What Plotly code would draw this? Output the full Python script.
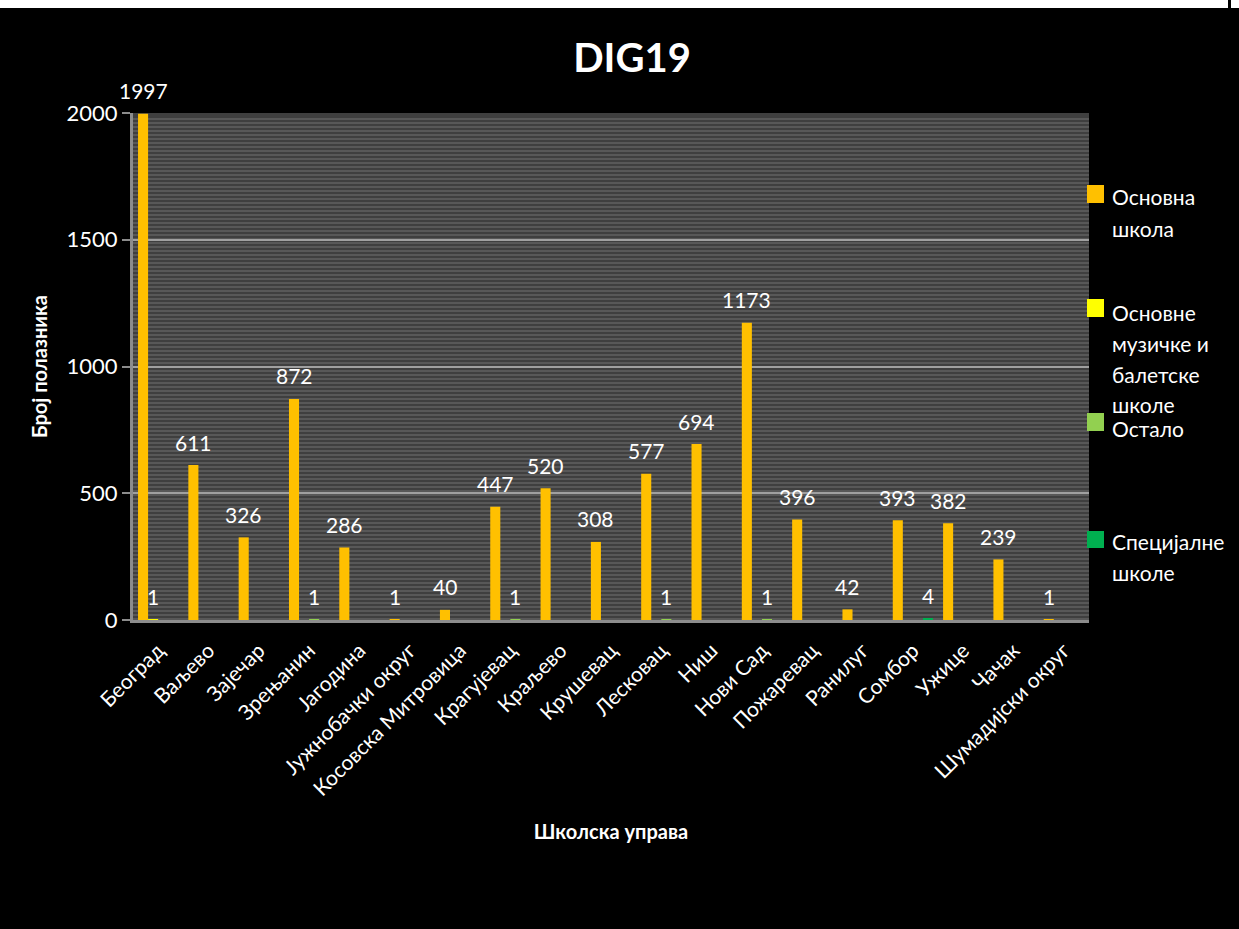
import plotly.graph_objects as go

# ---- data ----
categories = ["Београд", "Ваљево", "Зајечар", "Зрењанин", "Јагодина", "Јужнобачки округ",
              "Косовска Митровица", "Крагујевац", "Краљево", "Крушевац", "Лесковац", "Ниш",
              "Нови Сад", "Пожаревац", "Ранилуг", "Сомбор", "Ужице", "Чачак", "Шумадијски округ"]
osnovna = [1997, 611, 326, 872, 286, 1, 40, 447, 520, 308, 577, 694, 1173, 396, 42, 393, 382, 239, 1]
muzicke = [1, None, None, None, None, None, None, None, None, None, None, None, None, None, None, None, None, None, None]
ostalo = [None, None, None, 1, None, None, None, 1, None, None, 1, None, 1, None, None, None, None, None, None]
specijalne = [None, None, None, None, None, None, None, None, None, None, None, None, None, None, None, 4, None, None, None]
series_names = ["Основна школа", "Основне музичке и балетске школе", "Остало", "Специјалне школе"]
series_colors = ["#FFC000", "#FFFF00", "#92D050", "#00B050"]
y_ticks = [0, 500, 1000, 1500, 2000]

FONT = "Lato"
W, H = 1239, 929
L, R, T, B = 133, 1089, 113, 620  # plot area in px
BARGAP = 0.2


def px_x(px):
    return (px - L) / (R - L)


def px_y(py):
    return (B - py) / (B - T)


all_series = [osnovna, muzicke, ostalo, specijalne]
n_series = len(all_series)
slot_px = (R - L) / len(categories)
bar_px = slot_px * (1 - BARGAP) / n_series

fig = go.Figure()
annotations = []
for i, (name, vals, col) in enumerate(zip(series_names, all_series, series_colors)):
    fig.add_trace(go.Bar(
        x=categories, y=vals, name=name, marker=dict(color=col, line=dict(width=0)),
        showlegend=False,
    ))
    # data labels above each bar (Excel-like "outside end" with its larger gap)
    for c, v in zip(categories, vals):
        if v is None:
            continue
        annotations.append(dict(
            x=c, y=v, xref="x", yref="y", text=str(v), showarrow=False,
            xanchor="center", yanchor="middle",
            xshift=(i - (n_series - 1) / 2) * bar_px, yshift=23,
            font=dict(family=FONT, size=21, color="white"),
        ))

fig.update_layout(
    width=W, height=H,
    margin=dict(l=L, r=W - R, t=T, b=H - B, autoexpand=False),
    paper_bgcolor="black", plot_bgcolor="#3f3f3f",
    barmode="group", bargap=BARGAP, bargroupgap=0,
    font=dict(family=FONT, color="white"),
    title=dict(text="<b>DIG19</b>", x=632 / W, y=1 - 58 / H, xanchor="center", yanchor="middle",
               font=dict(family=FONT, size=40, color="white")),
)

fig.update_xaxes(
    range=[-0.5, len(categories) - 0.5],
    tickangle=-45, tickfont=dict(family=FONT, size=21, color="white"),
    showline=True, linecolor="#8c8c8c", linewidth=3, ticks="", ticklabelstandoff=7,
    showgrid=False, fixedrange=True,
    title=dict(text="<b>Школска управа</b>", font=dict(family=FONT, size=20, color="white"), standoff=26),
)
fig.update_yaxes(
    range=[0, 2000], tickvals=y_ticks, tickfont=dict(family=FONT, size=22, color="white"),
    showline=True, linecolor="#8c8c8c", linewidth=3, ticks="outside", ticklen=8, tickwidth=2,
    tickcolor="#8c8c8c", showgrid=True, gridcolor="#a0a0a0", gridwidth=2, zeroline=False,
    title=dict(text="<b>Број полазника</b>", font=dict(family=FONT, size=20, color="white"), standoff=14),
)

shapes = []
# fine horizontal stripe texture of the plot background (decoration only)
stripe_path = "".join(
    f"M0,{px_y(B - k * 4 - 1):.5f} H1 " for k in range(int((B - T) / 4))
)
shapes.append(dict(type="path", xref="paper", yref="paper", path=stripe_path,
                   line=dict(color="#585858", width=2), layer="below"))

# top white strip with a thin black separator (page fragment above the chart)
shapes.append(dict(type="rect", xref="paper", yref="paper", x0=px_x(0), x1=px_x(W), y0=px_y(8), y1=px_y(0),
                   fillcolor="white", line=dict(width=0), layer="above"))
shapes.append(dict(type="rect", xref="paper", yref="paper", x0=px_x(1228), x1=px_x(1231), y0=px_y(8), y1=px_y(0),
                   fillcolor="black", line=dict(width=0), layer="above"))

# manual legend (matches the reference's irregular spacing)
legend_items = [
    ("#FFC000", (185, 203), ["Основна", "школа"], [197, 229]),
    ("#FFFF00", (299, 317), ["Основне", "музичке и", "балетске", "школе"], [312, 343, 374, 404]),
    ("#92D050", (413, 431), ["Остало"], [428]),
    ("#00B050", (531, 548), ["Специјалне", "школе"], [541, 572]),
]
for col, (sy0, sy1), lines, ys in legend_items:
    shapes.append(dict(type="rect", xref="paper", yref="paper", x0=px_x(1087), x1=px_x(1104),
                       y0=px_y(sy1), y1=px_y(sy0), fillcolor=col, line=dict(width=0)))
    for txt, yy in zip(lines, ys):
        annotations.append(dict(text=txt, xref="paper", yref="paper", x=px_x(1110), y=px_y(yy),
                                xanchor="left", yanchor="middle", showarrow=False,
                                font=dict(family=FONT, size=21, color="white")))

fig.update_layout(shapes=shapes, annotations=annotations)

fig.write_html(
    "out.html",
    config={"displayModeBar": False},
    post_script="document.body.style.margin='0';document.body.style.padding='0';"
                "document.documentElement.style.margin='0';",
)
